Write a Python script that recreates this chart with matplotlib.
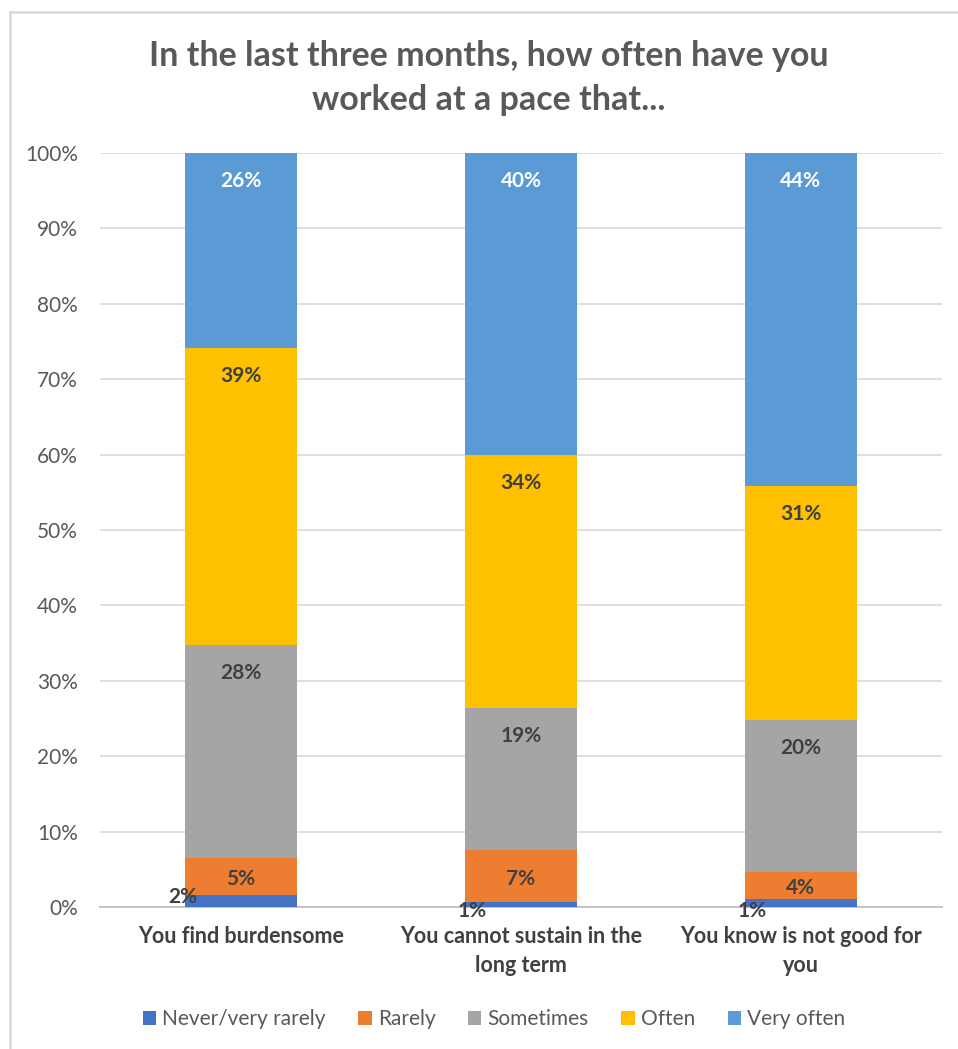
import matplotlib
matplotlib.use("Agg")
import matplotlib.pyplot as plt
import numpy as np
from matplotlib.lines import Line2D

plt.rcParams['font.family'] = ['Lato', 'DejaVu Sans']

title = "In the last three months, how often have you\nworked at a pace that..."
categories = ["You find burdensome", "You cannot sustain in the\nlong term", "You know is not good for\nyou"]
series_names = ["Never/very rarely", "Rarely", "Sometimes", "Often", "Very often"]
never = [1.6, 0.6, 1.1]
rarely = [4.9, 7.0, 3.6]
sometimes = [28.2, 18.8, 20.1]
often = [39.4, 33.6, 31.0]
very_often = [25.9, 40.0, 44.2]
colors = ["#4472C4", "#ED7D31", "#A5A5A5", "#FFC000", "#5B9BD5"]
yticks = [0, 10, 20, 30, 40, 50, 60, 70, 80, 90, 100]

W, H = 958, 1049
fig = plt.figure(figsize=(W/100, H/100), dpi=100)
fig.patch.set_facecolor("white")
# chart border (top and left visible)
fig.lines.append(Line2D([10/W, 1], [1 - 12/H, 1 - 12/H], transform=fig.transFigure,
                        color="#D6D6D6", linewidth=1.8))
fig.lines.append(Line2D([10/W, 10/W], [1 - 12/H, 0], transform=fig.transFigure,
                        color="#D6D6D6", linewidth=1.8))

ax = fig.add_axes([100/W, 1 - 907/H, 842/W, 754/H])
x = np.arange(len(categories))
data = [never, rarely, sometimes, often, very_often]
bottom = np.zeros(len(categories))
stacks = []
for vals, col, name in zip(data, colors, series_names):
    ax.bar(x, vals, 0.4, bottom=bottom, color=col, label=name, zorder=3)
    stacks.append((np.array(vals), bottom.copy()))
    bottom = bottom + np.array(vals)

ax.set_xlim(-0.504, 2.504)
ax.set_ylim(0, 100)
ax.set_yticks(yticks)
ax.set_yticklabels([f"{t}%" for t in yticks], fontsize=15, color="#595959")
ax.yaxis.grid(True, color="#D9D9D9", linewidth=1.2, zorder=0)
ax.set_axisbelow(True)
for s in ["left", "right", "top"]:
    ax.spines[s].set_visible(False)
ax.spines["bottom"].set_color("#BFBFBF")
ax.spines["bottom"].set_linewidth(1.3)
ax.tick_params(axis="both", length=0)
ax.tick_params(axis="y", pad=16)
ax.set_xticks(x)
ax.set_xticklabels(categories, fontsize=15.5, fontweight="bold", color="#404040", linespacing=1.45)
ax.tick_params(axis="x", pad=14)

py = 100 / 754   # data units per pixel vertically
pxu = 1 / 280    # data units per pixel horizontally
never_offsets = [(-2, 10), (7, -4), (7, -4)]
for si, (vals, bot) in enumerate(stacks):
    for i in range(len(categories)):
        v = float(vals[i])
        b = float(bot[i])
        lab = f"{v:.0f}%"
        if si == 0:
            ox, oy = never_offsets[i]
            ax.text(x[i] - 0.2 + ox * pxu, oy * py, lab, ha="center", va="center",
                    fontsize=15, fontweight="bold", color="#404040", zorder=5)
            continue
        top = b + v
        if v / py > 56:
            y = top - 28 * py
        else:
            y = b + v / 2 - 3 * py
        col = "white" if si == 4 else "#404040"
        ax.text(x[i], y, lab, ha="center", va="center", fontsize=15,
                fontweight="bold", color=col, zorder=5)

fig.text(489/W, 1 - 78/H, title, ha="center", va="center", fontsize=24.5,
         fontweight="bold", color="#595959", linespacing=1.5)

fig.legend(loc="center", bbox_to_anchor=(494/W, 1 - 1019/H), ncol=5, frameon=False,
           fontsize=15, handlelength=0.65, handleheight=0.65, handletextpad=0.3,
           columnspacing=1.55, labelcolor="#595959")

fig.savefig("out.png", dpi=100, facecolor="white")
